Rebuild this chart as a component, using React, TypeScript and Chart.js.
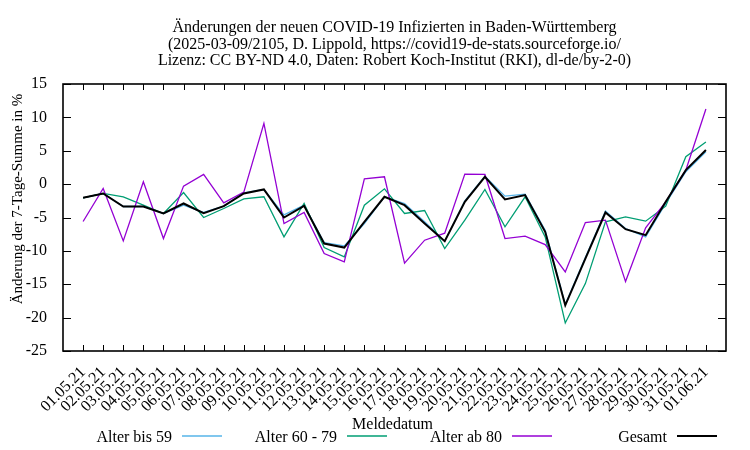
import React, { useEffect, useRef } from "react";
import { Chart, registerables } from "chart.js";

Chart.register(...registerables);

const dates = [
  "01.05.21", "02.05.21", "03.05.21", "04.05.21", "05.05.21", "06.05.21", "07.05.21", "08.05.21",
  "09.05.21", "10.05.21", "11.05.21", "12.05.21", "13.05.21", "14.05.21", "15.05.21", "16.05.21",
  "17.05.21", "18.05.21", "19.05.21", "20.05.21", "21.05.21", "22.05.21", "23.05.21", "24.05.21",
  "25.05.21", "26.05.21", "27.05.21", "28.05.21", "29.05.21", "30.05.21", "31.05.21", "01.06.21",
];

const bis59 = [
  -2.05, -1.4, -3.35, -3.35, -4.4, -3.15, -4.25, -3.3, -1.3, -0.8, -4.6, -3.15, -8.75, -9.25, -5.9, -1.9,
  -2.9, -5.65, -8.55, -2.5, 1.2, -1.8, -1.5, -6.9, -18.0, -11.0, -4.05, -6.65, -7.9, -2.9, 1.85, 4.85,
];
const alter6079 = [
  -2.05, -1.4, -1.9, -3.15, -4.4, -1.25, -5.0, -3.65, -2.2, -1.9, -7.9, -2.9, -9.5, -10.9, -3.15, -0.7,
  -4.4, -3.95, -9.65, -5.4, -0.8, -6.4, -1.9, -7.9, -20.8, -14.9, -5.65, -4.9, -5.55, -3.3, 4.1, 6.3,
];
const ab80 = [
  -5.6, -0.65, -8.5, 0.35, -8.15, -0.3, 1.45, -2.8, -1.2, 9.1, -5.9, -4.25, -10.4, -11.65, 0.8, 1.1,
  -11.85, -8.4, -7.35, 1.5, 1.45, -8.15, -7.8, -9.05, -13.15, -5.75, -5.4, -14.6, -6.55, -2.65, 2.1, 11.25,
];
const gesamt = [
  -2.05, -1.4, -3.35, -3.35, -4.4, -2.9, -4.35, -3.3, -1.4, -0.8, -5.0, -3.25, -8.9, -9.5, -5.65, -1.9,
  -3.15, -5.9, -8.55, -2.65, 1.1, -2.3, -1.65, -7.15, -18.15, -11.15, -4.25, -6.75, -7.65, -2.65, 2.1, 5.1,
];

const seriesNames = ["Alter bis 59", "Alter 60 - 79", "Alter ab 80", "Gesamt"];
const seriesColors = ["#56b4e9", "#009e73", "#9400d3", "#000000"];
const seriesWidths = [1.3, 1.3, 1.3, 2];

const yTicks = [-25, -20, -15, -10, -5, 0, 5, 10, 15];

const titleLines = [
  "Änderungen der neuen COVID-19 Infizierten in Baden-Württemberg",
  "(2025-03-09/2105, D. Lippold, https://covid19-de-stats.sourceforge.io/",
  "Lizenz: CC BY-ND 4.0, Daten: Robert Koch-Institut (RKI), dl-de/by-2-0)",
];
const yTitle = "Änderung der 7-Tage-Summe in %";
const xTitle = "Meldedatum";

const FONT = '"Liberation Serif", "Times New Roman", serif';

const decorPlugin = {
  id: "decor",
  afterDraw(chart: any) {
    const { ctx, chartArea: a, scales } = chart;
    const xs = scales.x;
    const ys = scales.y;
    ctx.save();
    // ticks
    ctx.strokeStyle = "#000";
    ctx.lineWidth = 1;
    ctx.beginPath();
    for (let i = 0; i < dates.length; i++) {
      const px = Math.round(xs.getPixelForValue(i)) + 0.5;
      ctx.moveTo(px, a.bottom);
      ctx.lineTo(px, a.bottom - 6);
      ctx.moveTo(px, a.top);
      ctx.lineTo(px, a.top + 6);
    }
    for (const v of yTicks) {
      const py = Math.round(ys.getPixelForValue(v)) + 0.5;
      ctx.moveTo(a.left, py);
      ctx.lineTo(a.left + 8, py);
      ctx.moveTo(a.right, py);
      ctx.lineTo(a.right - 8, py);
    }
    ctx.stroke();
    // border
    ctx.lineWidth = 1.6;
    ctx.strokeRect(a.left, a.top, a.right - a.left, a.bottom - a.top);

    // titles
    ctx.fillStyle = "#000";
    ctx.font = "16px " + FONT;
    ctx.textAlign = "center";
    ctx.textBaseline = "alphabetic";
    const cx = (a.left + a.right) / 2;
    const baselines = [32, 48.5, 65];
    titleLines.forEach((t, i) => ctx.fillText(t, cx, baselines[i]));
    ctx.fillText(xTitle, cx - 2, 429);

    // y title
    ctx.save();
    ctx.font = "15px " + FONT;
    ctx.translate(22, 199);
    ctx.rotate(-Math.PI / 2);
    ctx.textAlign = "center";
    ctx.fillText(yTitle, 0, 0);
    ctx.restore();

    // legend
    const lineStarts = [182, 347, 512, 677];
    ctx.textAlign = "right";
    seriesNames.forEach((n, i) => {
      const ls = lineStarts[i];
      ctx.fillStyle = "#000";
      ctx.fillText(n, ls - 10, 442);
      ctx.strokeStyle = seriesColors[i];
      ctx.lineWidth = seriesWidths[i];
      ctx.beginPath();
      ctx.moveTo(ls, 436);
      ctx.lineTo(ls + 40, 436);
      ctx.stroke();
    });
    ctx.restore();
  },
};

export default function App() {
  const ref = useRef<HTMLCanvasElement | null>(null);
  useEffect(() => {
    document.body.style.margin = "0";
    const canvas = ref.current;
    if (!canvas) return;
    const series = [bis59, alter6079, ab80, gesamt];
    const chart = new Chart(canvas, {
      type: "line",
      data: {
        datasets: series.map((s, k) => ({
          label: seriesNames[k],
          data: s.map((y, i) => ({ x: i, y })),
          borderColor: seriesColors[k],
          backgroundColor: seriesColors[k],
          borderWidth: seriesWidths[k],
          pointRadius: 0,
          tension: 0,
          fill: false,
          order: 4 - k,
        })),
      },
      options: {
        responsive: false,
        animation: false,
        devicePixelRatio: 1,
        layout: { padding: { top: 84, right: 24, left: 0, bottom: 0 } },
        plugins: {
          legend: { display: false },
          title: { display: false },
          tooltip: { enabled: false },
        },
        scales: {
          x: {
            type: "linear",
            min: -1,
            max: 32,
            grid: { display: false },
            border: { display: false },
            afterBuildTicks: (scale: any) => {
              scale.ticks = dates.map((_, i) => ({ value: i }));
            },
            ticks: {
              autoSkip: false,
              minRotation: 45,
              maxRotation: 45,
              padding: 4,
              color: "#000",
              font: { family: FONT, size: 16 },
              callback: (v: any) => dates[v] ?? "",
            },
            afterFit: (scale: any) => {
              scale.height = 99;
              scale.paddingLeft = 0;
              scale.paddingRight = 0;
            },
          },
          y: {
            min: -25,
            max: 15,
            grid: { display: false },
            border: { display: false },
            ticks: {
              stepSize: 5,
              padding: 8,
              color: "#000",
              font: { family: FONT, size: 16 },
            },
            afterFit: (scale: any) => {
              scale.width = 63;
              scale.paddingTop = 0;
              scale.paddingBottom = 0;
            },
          },
        },
      },
      plugins: [decorPlugin],
    });
    return () => chart.destroy();
  }, []);
  return (
    <div style={{ position: "absolute", left: 0, top: 0, width: 750, height: 450 }}>
      <canvas ref={ref} width={750} height={450} />
    </div>
  );
}
